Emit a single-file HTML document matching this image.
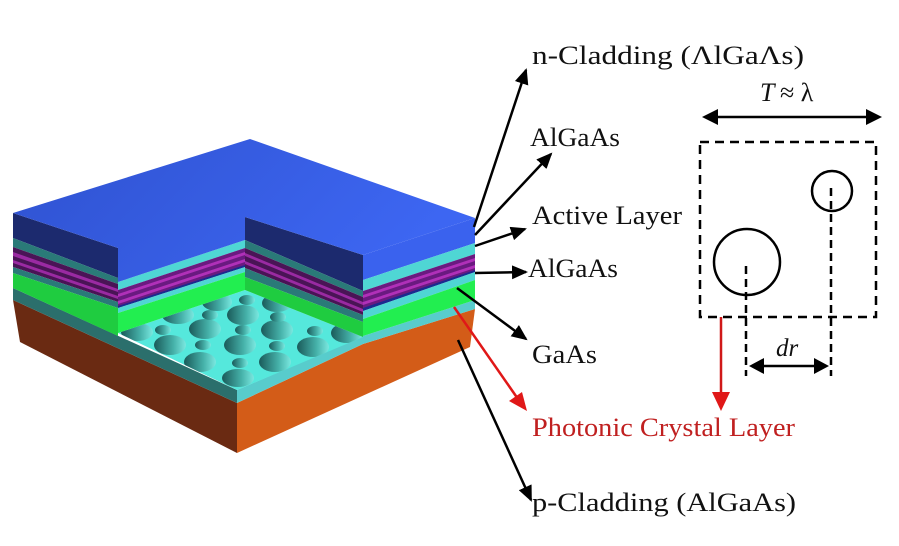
<!DOCTYPE html>
<html><head><meta charset="utf-8"><style>
html,body{margin:0;padding:0;background:#fff;}
svg{display:block;}
text{font-family:"Liberation Serif",serif;}
</style></head><body>
<svg width="899" height="546" viewBox="0 0 899 546" xmlns="http://www.w3.org/2000/svg">
<defs>
<linearGradient id="top" x1="0" y1="0" x2="1" y2="0.3"><stop offset="0" stop-color="#2f52d0"/><stop offset="1" stop-color="#3d66f2"/></linearGradient>
<linearGradient id="hole" x1="0" y1="0" x2="1" y2="0"><stop offset="0" stop-color="#1a5a5a"/><stop offset="0.6" stop-color="#45b0a8"/><stop offset="1" stop-color="#7ae8e0"/></linearGradient>
<clipPath id="fl"><polygon points="118,333 245,290 363,337 237,390"/></clipPath>
<marker id="ah" markerWidth="16" markerHeight="14" refX="14" refY="7" orient="auto" markerUnits="userSpaceOnUse" viewBox="0 0 16 14"><path d="M0,0 L16,7 L0,14 z" fill="#000"/></marker>
</defs>

<polygon points="13,300 237,403 237,453 20,342" fill="#6a2a12"/>
<polygon points="13,288 237,390 237,403 13,300" fill="#2b6f6c"/>
<polygon points="237,403 363,344 475,309 470,347 237,453" fill="#d35c18"/>
<polygon points="237,390 363,336 475,300 475,309 363,344 237,403" fill="#58cccc"/>

<polygon points="118,333 245,290 363,337 237,390" fill="#55e8dc"/>
<g clip-path="url(#fl)" fill="url(#hole)">
<ellipse cx="137" cy="332" rx="16" ry="9"/><ellipse cx="163" cy="330" rx="8" ry="5"/><ellipse cx="205" cy="329" rx="16" ry="10"/><ellipse cx="243" cy="330" rx="8" ry="5"/><ellipse cx="277" cy="330" rx="16" ry="10"/><ellipse cx="315" cy="331" rx="8" ry="5"/><ellipse cx="347" cy="333" rx="16" ry="10"/>
<ellipse cx="170" cy="345" rx="16" ry="10"/><ellipse cx="203" cy="345" rx="8" ry="5"/><ellipse cx="240" cy="345" rx="16" ry="10"/><ellipse cx="277" cy="346" rx="8" ry="5"/><ellipse cx="313" cy="347" rx="16" ry="10"/>
<ellipse cx="200" cy="362" rx="16" ry="10"/><ellipse cx="240" cy="363" rx="8" ry="5"/><ellipse cx="275" cy="362" rx="16" ry="10"/>
<ellipse cx="238" cy="378" rx="16" ry="9"/>
<ellipse cx="178" cy="315" rx="16" ry="9"/><ellipse cx="210" cy="315" rx="8" ry="5"/><ellipse cx="243" cy="315" rx="16" ry="10"/><ellipse cx="278" cy="317" rx="8" ry="5"/>
<ellipse cx="217" cy="302" rx="15" ry="9"/><ellipse cx="247" cy="300" rx="8" ry="5"/><ellipse cx="277" cy="303" rx="15" ry="9"/>
</g>

<polygon points="13,213 118,248 118,278 13,238" fill="#1c2a6e"/>
<polygon points="13,238 118,278 118,284 13,247" fill="#2a7a78"/>
<polygon points="13,247 118,284 118,302 13,267" fill="#4a1456"/>
<polygon points="13,252 118,289 118,292 13,256" fill="#9a2aa2"/>
<polygon points="13,260 118,296 118,299 13,263" fill="#9a2aa2"/>
<polygon points="13,267 118,302 118,308 13,273" fill="#2a7a78"/>
<polygon points="13,273 118,308 118,336 13,288" fill="#1fcc40"/>

<polygon points="118,282 245,240 245,248 118,290" fill="#4fd6d4"/>
<polygon points="118,290 245,248 245,267 118,308" fill="#6a1a80"/>
<polygon points="118,294 245,252 245,255 118,297" fill="#b030b8"/>
<polygon points="118,301 245,259 245,262 118,304" fill="#b030b8"/>
<polygon points="118,306 245,265 245,267 118,308" fill="#1b2a90"/>
<polygon points="118,308 245,267 245,272 118,313" fill="#4fd6d4"/>
<polygon points="118,313 245,272 245,290 118,333" fill="#22ee50"/>

<polygon points="245,217 363,255 363,291 245,240" fill="#1c2a6e"/>
<polygon points="245,240 363,291 363,297 245,248" fill="#2a7a78"/>
<polygon points="245,248 363,297 363,315 245,268" fill="#4a1456"/>
<polygon points="245,253 363,302 363,305 245,256" fill="#9a2aa2"/>
<polygon points="245,261 363,309 363,312 245,264" fill="#9a2aa2"/>
<polygon points="245,268 363,315 363,322 245,277" fill="#2a7a78"/>
<polygon points="245,277 363,322 363,337 245,290" fill="#1fcc40"/>

<polygon points="363,255 475,218 475,243 363,280" fill="#3a62ee"/>
<polygon points="363,280 475,243 475,254 363,291" fill="#4fd6d4"/>
<polygon points="363,291 475,254 475,272 363,311" fill="#6a1a80"/>
<polygon points="363,295 475,258 475,261 363,298" fill="#b030b8"/>
<polygon points="363,302 475,265 475,268 363,305" fill="#b030b8"/>
<polygon points="363,308 475,270 475,272 363,311" fill="#1b2a90"/>
<polygon points="363,311 475,272 475,280 363,319" fill="#4fd6d4"/>
<polygon points="363,319 475,280 475,300 363,336" fill="#22ee50"/>

<polygon points="13,213 250,139 475,218 363,255 245,217 245,240 118,282 118,248" fill="url(#top)"/>

<g stroke="#000" stroke-width="2.5" fill="none" marker-end="url(#ah)">
<line x1="474" y1="227" x2="526" y2="70"/>
<line x1="475" y1="235" x2="551" y2="154"/>
<line x1="475" y1="246" x2="525" y2="229"/>
<line x1="475" y1="273" x2="526" y2="272"/>
<line x1="457" y1="288" x2="526" y2="339"/>
<line x1="458" y1="340" x2="531" y2="500"/>
</g>
<line x1="454" y1="307" x2="518" y2="399" stroke="#e01818" stroke-width="2.5"/>
<polygon points="527,411 509,401 522,392" fill="#e01818"/>

<g font-size="26" fill="#111">
<text x="532" y="64" textLength="272" lengthAdjust="spacingAndGlyphs">n-Cladding (ΛlGaΛs)</text>
<text x="530" y="146" textLength="90" lengthAdjust="spacingAndGlyphs">AlGaAs</text>
<text x="532" y="224" textLength="150" lengthAdjust="spacingAndGlyphs">Active Layer</text>
<text x="528" y="277" textLength="90" lengthAdjust="spacingAndGlyphs">AlGaAs</text>
<text x="532" y="363" textLength="65" lengthAdjust="spacingAndGlyphs">GaAs</text>
<text x="532" y="436" fill="#c02020" textLength="263" lengthAdjust="spacingAndGlyphs">Photonic Crystal Layer</text>
<text x="532" y="511" textLength="264" lengthAdjust="spacingAndGlyphs">p-Cladding (AlGaAs)</text>
</g>

<text x="760" y="101" font-size="26" font-style="italic" fill="#111">T</text>
<text x="780" y="101" font-size="26" fill="#111">≈ λ</text>
<line x1="714" y1="117" x2="870" y2="117" stroke="#000" stroke-width="2.5"/>
<polygon points="702,117 718,109 718,125" fill="#000"/>
<polygon points="882,117 866,109 866,125" fill="#000"/>
<rect x="700" y="142" width="176" height="175" fill="none" stroke="#000" stroke-width="2.5" stroke-dasharray="9,6"/>
<circle cx="832" cy="191" r="20" fill="none" stroke="#000" stroke-width="2.5"/>
<circle cx="747" cy="262" r="33" fill="none" stroke="#000" stroke-width="2.5"/>
<line x1="746" y1="266" x2="746" y2="376" stroke="#000" stroke-width="2.5" stroke-dasharray="8,5"/>
<line x1="831" y1="188" x2="831" y2="376" stroke="#000" stroke-width="2.5" stroke-dasharray="8,5"/>
<line x1="760" y1="366" x2="817" y2="366" stroke="#000" stroke-width="2.5"/>
<polygon points="749,366 764,358 764,374" fill="#000"/>
<polygon points="829,366 814,358 814,374" fill="#000"/>
<text x="776" y="356" font-size="25" font-style="italic" fill="#111">dr</text>
<line x1="721" y1="317" x2="721" y2="394" stroke="#d01818" stroke-width="2.5"/>
<polygon points="721,411 712,392 730,392" fill="#e01818"/>
</svg>
</body></html>
